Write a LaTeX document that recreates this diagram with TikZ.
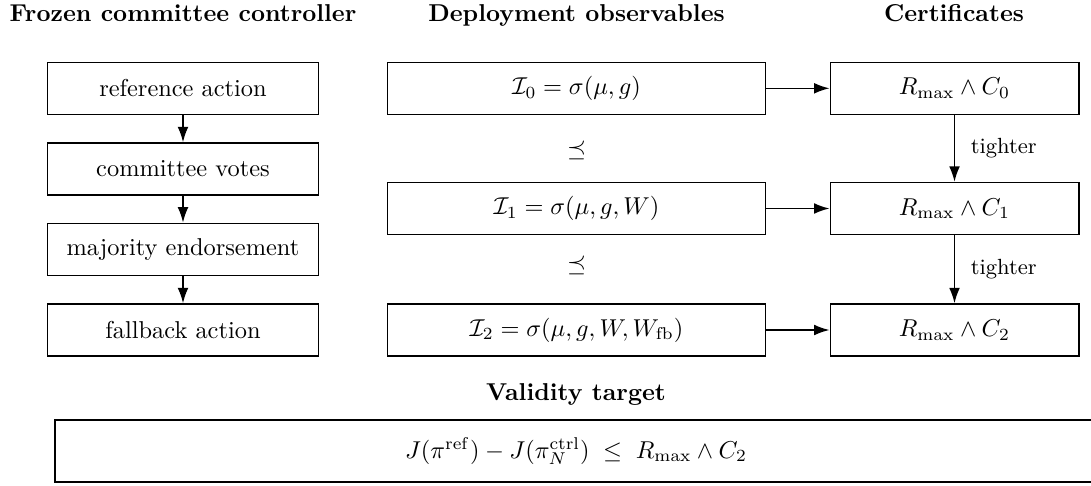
\documentclass[tikz,border=0pt]{standalone}
\usetikzlibrary{arrows.meta}
\begin{document}
\begin{tikzpicture}[x=0.41pt,y=-0.41pt,
  box/.style={draw, line width=0.6pt, minimum height=21.3pt, inner sep=0pt, align=center},
  leftbox/.style={box, minimum width=110.9pt},
  midbox/.style={box, minimum width=154.8pt},
  rightbox/.style={box, minimum width=101.9pt},
  targetbox/.style={draw, line width=0.7pt, minimum width=427.3pt, minimum height=25.5pt, inner sep=0pt},
  head/.style={font=\bfseries, anchor=base, inner sep=0pt},
  link/.style={-{Latex[length=6.3pt,width=4.4pt]}, line width=0.65pt},
  note/.style={font=\small, right, xshift=3pt}]
\useasboundingbox (0,0) rectangle (1091,485);

% column headings
\node[head] (hctl)  at (183,21.5) {Frozen committee controller};
\node[head] (hobs)  at (576.5,21.5) {Deployment observables};
\node[head] (hcert) at (954,21.5) {Certificates};

% controller pipeline
\node[leftbox] (c1) at (183,88.3)  {reference action};
\node[leftbox] (c2) at (183,169)   {committee votes};
\node[leftbox] (c3) at (183,249.3) {majority endorsement};
\node[leftbox] (c4) at (183,330)   {fallback action};
\draw[link] (c1) -- (c2);
\draw[link] (c2) -- (c3);
\draw[link] (c3) -- (c4);

% information sets
\node[midbox] (o0) at (576.5,88.3)  {$\mathcal{I}_0 = \sigma(\mu, g)$};
\node[midbox] (o1) at (576.5,208.5) {$\mathcal{I}_1 = \sigma(\mu, g, W)$};
\node[midbox] (o2) at (576.5,330)   {$\mathcal{I}_2 = \sigma(\mu, g, W, W_{\mathrm{fb}})$};
\node (p1) at (576.5,150.5) {$\preceq$};
\node (p2) at (576.5,265.5) {$\preceq$};

% certificates
\node[rightbox] (r0) at (954.5,88.3)  {$R_{\max} \wedge C_0$};
\node[rightbox] (r1) at (954.5,208.5) {$R_{\max} \wedge C_1$};
\node[rightbox] (r2) at (954.5,330)   {$R_{\max} \wedge C_2$};
\draw[link] (o0) -- (r0);
\draw[link] (o1) -- (r1);
\draw[link] (o2) -- (r2);
\draw[link] (r0) -- node[note] {tighter} (r1);
\draw[link] (r1) -- node[note] {tighter} (r2);

% validity target
\node[head] (hval) at (576,400.5) {Validity target};
\node[targetbox] (val) at (576,451)
  {$J(\pi^{\mathrm{ref}}) - J(\pi_N^{\mathrm{ctrl}}) \;\le\; R_{\max} \wedge C_2$};
\end{tikzpicture}
\end{document}
